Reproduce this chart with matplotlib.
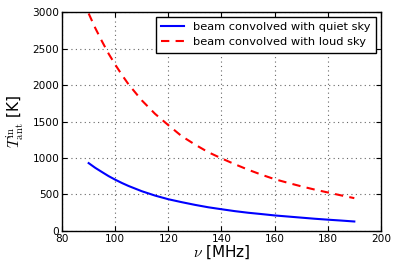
import matplotlib
matplotlib.use("Agg")
import matplotlib.pyplot as plt

# frequencies [MHz] and antenna temperatures [K]
freq = [90, 92.5, 95, 97.5, 100, 102.5, 105, 110, 115, 120, 125, 130, 135, 140,
        145, 150, 155, 160, 165, 170, 175, 180, 185, 190]
t_quiet = [930, 865, 808, 752, 703, 658, 617, 545, 485, 435, 395, 358, 325, 298,
           272, 250, 232, 213, 198, 183, 168, 155, 143, 130]
t_loud = [2980, 2780, 2600, 2430, 2280, 2140, 2010, 1790, 1605, 1450, 1300, 1185, 1080, 995,
          915, 840, 772, 710, 660, 612, 568, 528, 488, 450]

plt.rcParams['mathtext.fontset'] = 'cm'
plt.rcParams['font.family'] = 'DejaVu Sans'

fig = plt.figure(figsize=(3.98, 2.74), dpi=100)
ax = fig.add_axes([0.156, 0.157, 0.801, 0.799])

ax.plot(freq, t_quiet, color='blue', lw=1.5, label='beam convolved with quiet sky')
ax.plot(freq, t_loud, color='red', lw=1.5, ls='--', dashes=(4, 3),
        label='beam convolved with loud sky')

ax.set_xlim(80, 200)
ax.set_ylim(0, 3000)
ax.set_xticks(range(80, 201, 20))
ax.set_yticks(range(0, 3001, 500))
ax.grid(True, color='0.4', ls=(0, (1, 3)), lw=0.8)
ax.tick_params(direction='in', top=True, right=True, labelsize=7.6, length=3.5, pad=2)
for s in ax.spines.values():
    s.set_linewidth(1.0)

ax.set_xlabel(r'$\nu$ [MHz]', fontsize=11, labelpad=0)
ax.set_ylabel(r'$T_{\rm ant}^{\rm in}$ [K]', fontsize=11, labelpad=4)

leg = ax.legend(loc='upper right', fontsize=8.2, fancybox=False, framealpha=1,
                edgecolor='black', borderaxespad=0.45, handlelength=2.0,
                borderpad=0.45, labelspacing=0.45)
leg.get_frame().set_linewidth(1.0)

fig.savefig('out.png', dpi=100)
